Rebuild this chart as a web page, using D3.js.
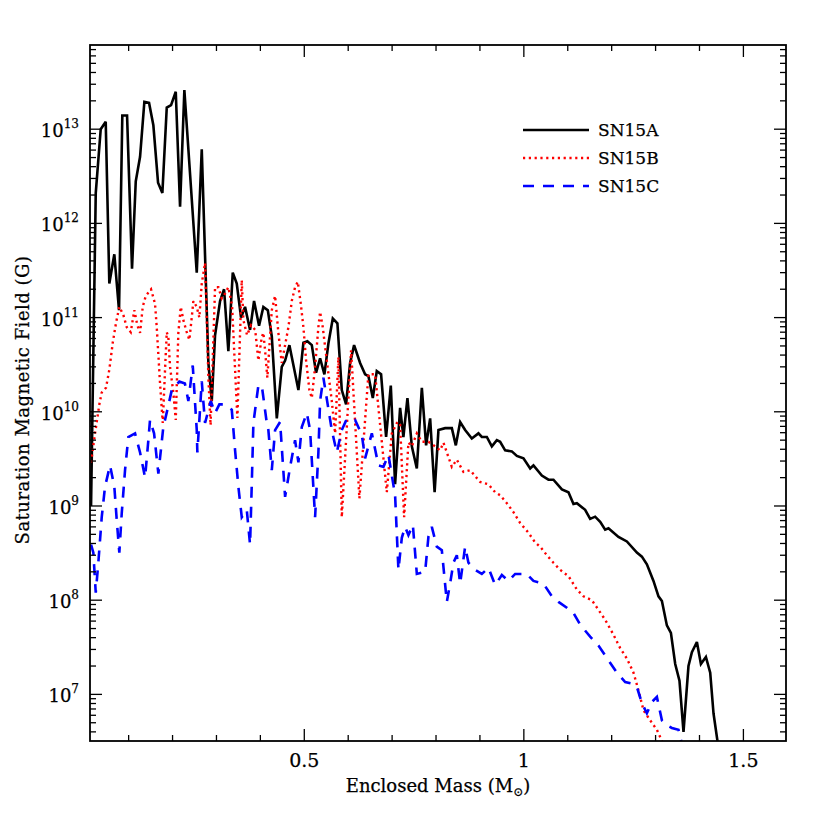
<!DOCTYPE html>
<html><head><meta charset="utf-8">
<script src="https://cdn.jsdelivr.net/npm/d3@7"></script>
<style>body{margin:0;background:#fff}svg{display:block}text{font-family:"DejaVu Serif",serif;fill:#000;stroke:#000;stroke-width:0.25}</style>
</head><body>
<svg id="c" width="830" height="830"></svg>
<script>
// ---- data: [enclosed mass (Msun), saturation field (G)] ----
const seriesNames = ["SN15A","SN15B","SN15C"];
const seriesColors = ["#000000","#ff0000","#0000ff"];
const seriesA = [[0.0144,1.0e9],[0.0251,2.1e12],[0.0364,1.0e13],[0.0478,1.2e13],[0.0560,2.3e11],[0.0674,4.7e11],[0.0781,1.2e11],[0.0856,1.4e13],[0.0964,1.4e13],[0.1077,3.3e11],[0.1162,2.8e12],[0.1260,5.1e12],[0.1358,1.95e13],[0.1465,1.9e13],[0.1563,1.1e13],[0.1670,2.7e12],[0.1768,2.1e12],[0.1868,1.7e13],[0.1966,1.8e13],[0.2073,2.5e13],[0.2171,1.5e12],[0.2269,2.6e13],[0.2551,3.0e11],[0.2665,6.1e12],[0.2816,3.3e10],[0.2893,1.3e10],[0.2968,6.5e10],[0.3082,1.5e11],[0.3173,2.0e11],[0.3271,4.4e10],[0.3371,3.0e11],[0.3462,2.3e11],[0.3560,1.0e11],[0.3651,1.3e11],[0.3765,7.4e10],[0.3856,1.5e11],[0.3970,8.2e10],[0.4068,1.3e11],[0.4169,1.2e11],[0.4260,6.3e10],[0.4374,8.5e9],[0.4487,3.0e10],[0.4563,3.5e10],[0.4661,5.1e10],[0.4866,1.7e10],[0.4980,5.4e10],[0.5071,5.6e10],[0.5171,5.1e10],[0.5269,2.6e10],[0.5360,3.7e10],[0.5458,2.5e10],[0.5549,5.3e10],[0.5649,9.8e10],[0.5754,8.7e10],[0.5854,1.7e10],[0.5952,1.2e10],[0.6043,3.3e10],[0.6134,5.1e10],[0.6271,3.3e10],[0.6385,2.5e10],[0.6460,2.4e10],[0.6560,1.4e10],[0.6651,2.7e10],[0.6749,2.5e10],[0.6863,5.4e9],[0.6970,1.9e10],[0.7068,1.7e9],[0.7182,1.1e10],[0.7257,5.4e9],[0.7349,1.4e10],[0.7449,4.3e9],[0.7563,2.5e9],[0.7677,1.8e10],[0.7774,4.4e9],[0.7866,8.5e9],[0.7968,1.4e9],[0.8055,6.4e9],[0.8207,6.7e9],[0.8360,6.7e9],[0.8451,4.4e9],[0.8549,7.8e9],[0.8663,6.4e9],[0.8815,5.2e9],[0.8966,5.9e9],[0.9043,5.4e9],[0.9157,5.4e9],[0.9271,4.3e9],[0.9385,5.0e9],[0.9460,4.8e9],[0.9574,3.9e9],[0.9727,3.8e9],[0.9841,3.4e9],[0.9991,3.2e9],[1.0144,2.5e9],[1.0219,2.7e9],[1.0410,2.1e9],[1.0560,1.9e9],[1.0674,1.9e9],[1.0866,1.5e9],[1.1016,1.4e9],[1.1130,1.05e9],[1.1207,1.07e9],[1.1396,9.1e8],[1.1510,7.3e8],[1.1624,7.7e8],[1.1738,6.8e8],[1.1852,5.6e8],[1.1927,5.8e8],[1.2155,4.7e8],[1.2346,4.2e8],[1.2574,3.2e8],[1.2688,2.9e8],[1.2802,2.4e8],[1.2952,1.6e8],[1.3066,1.1e8],[1.3144,9.8e7],[1.3257,5.4e7],[1.3349,4.5e7],[1.3447,2.1e7],[1.3544,1.4e7],[1.3636,4.0e6],[1.3749,2.0e7],[1.3827,2.8e7],[1.3941,3.6e7],[1.4032,2.1e7],[1.4146,2.5e7],[1.4244,1.7e7],[1.4319,6.3e6],[1.4472,2.0e6]];
const seriesB = [[0.0144,2.9e9],[0.0235,5.9e9],[0.0333,1.2e10],[0.0387,1.6e10],[0.0485,1.8e10],[0.0560,2.8e10],[0.0638,5.4e10],[0.0713,8.8e10],[0.0788,1.3e11],[0.0879,1.07e11],[0.0957,7.9e10],[0.1048,7.0e10],[0.1130,1.2e11],[0.1198,8.3e10],[0.1260,6.9e10],[0.1321,1.3e11],[0.1390,1.7e11],[0.1510,2.0e11],[0.1601,1.4e11],[0.1640,7.9e10],[0.1715,2.0e10],[0.1777,7.6e9],[0.1829,2.8e10],[0.1868,7.0e10],[0.1904,6.2e10],[0.1943,3.0e10],[0.2018,1.6e10],[0.2073,8.2e9],[0.2132,6.9e10],[0.2187,1.3e11],[0.2246,9.4e10],[0.2323,7.0e10],[0.2383,5.8e10],[0.2437,1.0e11],[0.2474,1.5e11],[0.2551,1.3e11],[0.2610,1.0e11],[0.2665,2.3e11],[0.2740,3.8e11],[0.2779,1.0e11],[0.2816,2.3e10],[0.2866,7.2e9],[0.2968,2.1e11],[0.3043,2.1e11],[0.3121,1.6e11],[0.3196,1.8e11],[0.3271,2.1e11],[0.3355,1.35e11],[0.3476,8.6e9],[0.3576,2.5e11],[0.3613,9.4e10],[0.3697,6.5e10],[0.3788,8.3e10],[0.3882,7.4e10],[0.3954,3.5e10],[0.4032,6.2e10],[0.4068,6.9e10],[0.4107,4.5e10],[0.4159,2.3e10],[0.4260,1.2e11],[0.4335,1.7e11],[0.4410,6.9e10],[0.4487,3.3e10],[0.4585,5.8e10],[0.4638,7.9e10],[0.4715,1.5e11],[0.4790,2.1e11],[0.4852,2.4e11],[0.4920,1.4e11],[0.4980,7.9e10],[0.5041,3.5e10],[0.5116,1.7e10],[0.5171,1.4e10],[0.5246,3.0e10],[0.5321,7.9e10],[0.5360,1.15e11],[0.5421,7.9e10],[0.5474,4.9e10],[0.5626,1.3e10],[0.5702,5.9e9],[0.5777,3.8e10],[0.5854,7.6e8],[0.6066,4.5e10],[0.6255,1.2e9],[0.6460,2.5e10],[0.6613,2.5e10],[0.6879,1.4e9],[0.6993,5.9e9],[0.7121,7.8e9],[0.7182,7.4e9],[0.7273,7.6e8],[0.7371,4.7e9],[0.7449,4.3e9],[0.7563,5.9e9],[0.7677,4.8e9],[0.7827,4.8e9],[0.7980,4.3e9],[0.8093,3.9e9],[0.8169,4.7e9],[0.8360,2.6e9],[0.8474,3.1e9],[0.8624,2.3e9],[0.8777,2.4e9],[0.9005,1.8e9],[0.9194,1.7e9],[0.9346,1.4e9],[0.9460,1.3e9],[0.9613,1.07e9],[0.9763,8.6e8],[0.9916,6.6e8],[1.0105,5.2e8],[1.0257,4.1e8],[1.0371,3.7e8],[1.0524,3.0e8],[1.0674,2.5e8],[1.0827,2.1e8],[1.1016,1.8e8],[1.1207,1.3e8],[1.1358,1.1e8],[1.1549,1.0e8],[1.1699,7.9e7],[1.1852,6.2e7],[1.2041,4.3e7],[1.2194,3.1e7],[1.2346,2.4e7],[1.2497,1.7e7],[1.2611,1.1e7],[1.2724,6.8e6],[1.2877,5.3e6],[1.3030,4.2e6],[1.3144,3.2e6],[1.3219,2.3e6]];
const seriesC = [[0.0144,3.9e8],[0.0196,3.2e8],[0.0251,1.2e8],[0.0310,2.5e8],[0.0387,7.6e8],[0.0462,1.6e9],[0.0576,2.7e9],[0.0674,1.6e9],[0.0729,7.1e8],[0.0788,3.2e8],[0.0843,8.4e8],[0.0918,2.4e9],[0.0993,5.4e9],[0.1146,5.9e9],[0.1260,3.7e9],[0.1374,2.0e9],[0.1449,5.0e9],[0.1487,8.2e9],[0.1579,5.9e9],[0.1677,2.2e9],[0.1790,6.9e9],[0.1882,1.05e10],[0.1982,1.7e10],[0.2155,2.1e10],[0.2281,2.0e10],[0.2360,1.3e10],[0.2460,3.1e10],[0.2551,6.4e9],[0.2565,3.7e9],[0.2665,2.1e10],[0.2740,7.6e9],[0.2870,1.3e10],[0.2968,9.7e9],[0.3066,1.2e10],[0.3157,1.2e10],[0.3349,1.05e10],[0.3424,3.9e9],[0.3499,1.6e9],[0.3576,7.6e8],[0.3690,9.1e8],[0.3765,3.9e8],[0.3804,1.7e9],[0.3841,7.6e9],[0.3954,1.9e10],[0.4032,1.9e10],[0.4146,7.6e9],[0.4182,6.4e9],[0.4260,2.4e9],[0.4335,6.4e9],[0.4449,7.8e9],[0.4563,1.25e9],[0.4677,2.6e9],[0.4790,5.0e9],[0.4866,2.9e9],[0.4943,6.9e9],[0.5057,9.7e9],[0.5132,6.4e9],[0.5246,7.6e8],[0.5321,3.7e9],[0.5360,1.3e10],[0.5435,2.3e10],[0.5626,6.4e9],[0.5740,3.7e9],[0.5854,6.4e9],[0.5968,8.4e9],[0.6157,8.2e9],[0.6310,5.7e9],[0.6385,3.2e9],[0.6538,5.9e9],[0.6688,2.7e9],[0.6802,2.6e9],[0.6916,3.5e9],[0.7068,1.3e9],[0.7144,2.1e8],[0.7221,4.6e8],[0.7296,6.0e8],[0.7371,4.9e8],[0.7472,6.3e8],[0.7563,1.9e8],[0.7752,2.0e8],[0.7827,4.7e8],[0.7904,6.0e8],[0.8018,3.7e8],[0.8132,3.4e8],[0.8246,9.6e7],[0.8321,1.5e8],[0.8396,2.5e8],[0.8474,3.0e8],[0.8549,1.5e8],[0.8663,3.7e8],[0.8738,2.5e8],[0.8891,2.1e8],[0.9043,1.9e8],[0.9194,2.2e8],[0.9346,1.45e8],[0.9499,1.85e8],[0.9649,1.6e8],[0.9802,1.9e8],[1.0068,1.9e8],[1.0219,1.6e8],[1.0446,1.5e8],[1.0638,1.1e8],[1.0788,9.6e7],[1.0979,8.3e7],[1.1130,7.3e7],[1.1282,5.5e7],[1.1510,4.1e7],[1.1699,3.3e7],[1.1927,2.3e7],[1.2118,1.7e7],[1.2308,1.35e7],[1.2460,1.3e7],[1.2574,1.2e7],[1.2688,8.1e6],[1.2802,6.3e6],[1.2916,8.3e6],[1.3030,9.4e6],[1.3144,5.3e6],[1.3257,4.7e6],[1.3371,4.4e6],[1.3522,4.2e6],[1.3583,3.2e6],[1.3629,2.5e6]];
const xTickValues = [0.5, 1, 1.5];
const xTickLabels = ["0.5", "1", "1.5"];
const xMinorTicks = [0.1,0.2,0.3,0.4,0.6,0.7,0.8,0.9,1.1,1.2,1.3,1.4,1.6];
const yTickExponents = [7, 8, 9, 10, 11, 12, 13];
const xDomain = [0.012, 1.597];
const yDomain = [3.2e6, 7.83e13];

// ---- layout ----
const L = 90, R = 786, T = 45, B = 741;
const svg = d3.select("#c");
const x = d3.scaleLinear().domain(xDomain).range([L, R]);
const y = d3.scaleLog().domain(yDomain).range([B, T]);

svg.append("clipPath").attr("id","clip").append("rect")
  .attr("x", L).attr("y", T).attr("width", R-L).attr("height", B-T);

const line = d3.line().x(d => x(d[0])).y(d => y(d[1]));
const styles = [
  {w:2.6, dash:null},
  {w:2.4, dash:"2.2,3.6"},
  {w:2.6, dash:"11,9"}
];
const g = svg.append("g").attr("clip-path","url(#clip)");
[seriesA, seriesB, seriesC].forEach((s,i) => {
  g.append("path").datum(s).attr("d", line)
   .attr("fill","none").attr("stroke", seriesColors[i])
   .attr("stroke-width", styles[i].w)
   .attr("stroke-linejoin","miter").attr("stroke-miterlimit", 3)
   .attr("stroke-dasharray", styles[i].dash);
});

// ---- frame & ticks ----
const ax = svg.append("g").attr("stroke","#000");
ax.append("rect").attr("x",L).attr("y",T).attr("width",R-L).attr("height",B-T)
  .attr("fill","none").attr("stroke-width",1.8);
const tick = (x1,y1,x2,y2,w) => ax.append("line").attr("x1",x1).attr("y1",y1).attr("x2",x2).attr("y2",y2).attr("stroke-width",w||1.3);
xTickValues.forEach(v => { const px=x(v); tick(px,B,px,B-12); tick(px,T,px,T+12); });
xMinorTicks.forEach(v => { const px=x(v); if(px>L+1 && px<R-1){ tick(px,B,px,B-6); tick(px,T,px,T+6);} });
for (let e = 6; e <= 13; e++) {
  for (let m = 1; m <= 9; m++) {
    const v = m * Math.pow(10, e);
    if (v < yDomain[0] || v > yDomain[1]) continue;
    const py = y(v), len = m === 1 ? 12 : 6;
    tick(L,py,L+len,py); tick(R,py,R-len,py);
  }
}

// ---- tick labels ----
yTickExponents.forEach(e => {
  const t = svg.append("text").attr("x", 79).attr("y", y(Math.pow(10,e)) + 8)
    .attr("text-anchor","end").attr("font-size", 18);
  t.append("tspan").text("10");
  t.append("tspan").attr("dy",-9).attr("font-size",12).text(String(e));
});
xTickValues.forEach((v,i) => {
  svg.append("text").attr("x", x(v)).attr("y", 767).attr("text-anchor","middle")
    .attr("font-size", 19).text(xTickLabels[i]);
});

// ---- axis titles ----
const xt = svg.append("text").attr("x", 438).attr("y", 792).attr("text-anchor","middle").attr("font-size",18);
xt.append("tspan").text("Enclosed Mass (M");
xt.append("tspan").attr("dy",4).attr("font-size",12).text("⊙");
xt.append("tspan").attr("dy",-4).text(")");
svg.append("text").attr("transform","translate(29,400) rotate(-90)")
  .attr("text-anchor","middle").attr("font-size",18).attr("letter-spacing",0.5)
  .text("Saturation Magnetic Field (G)");

// ---- legend ----
seriesNames.forEach((n,i) => {
  const ly = 130 + i*28;
  svg.append("line").attr("x1",523).attr("x2",589).attr("y1",ly).attr("y2",ly)
    .attr("stroke",seriesColors[i]).attr("stroke-width",styles[i].w)
    .attr("stroke-dasharray",styles[i].dash);
  svg.append("text").attr("x",598).attr("y",ly+6).attr("font-size",17).text(n);
});
</script>
</body></html>
